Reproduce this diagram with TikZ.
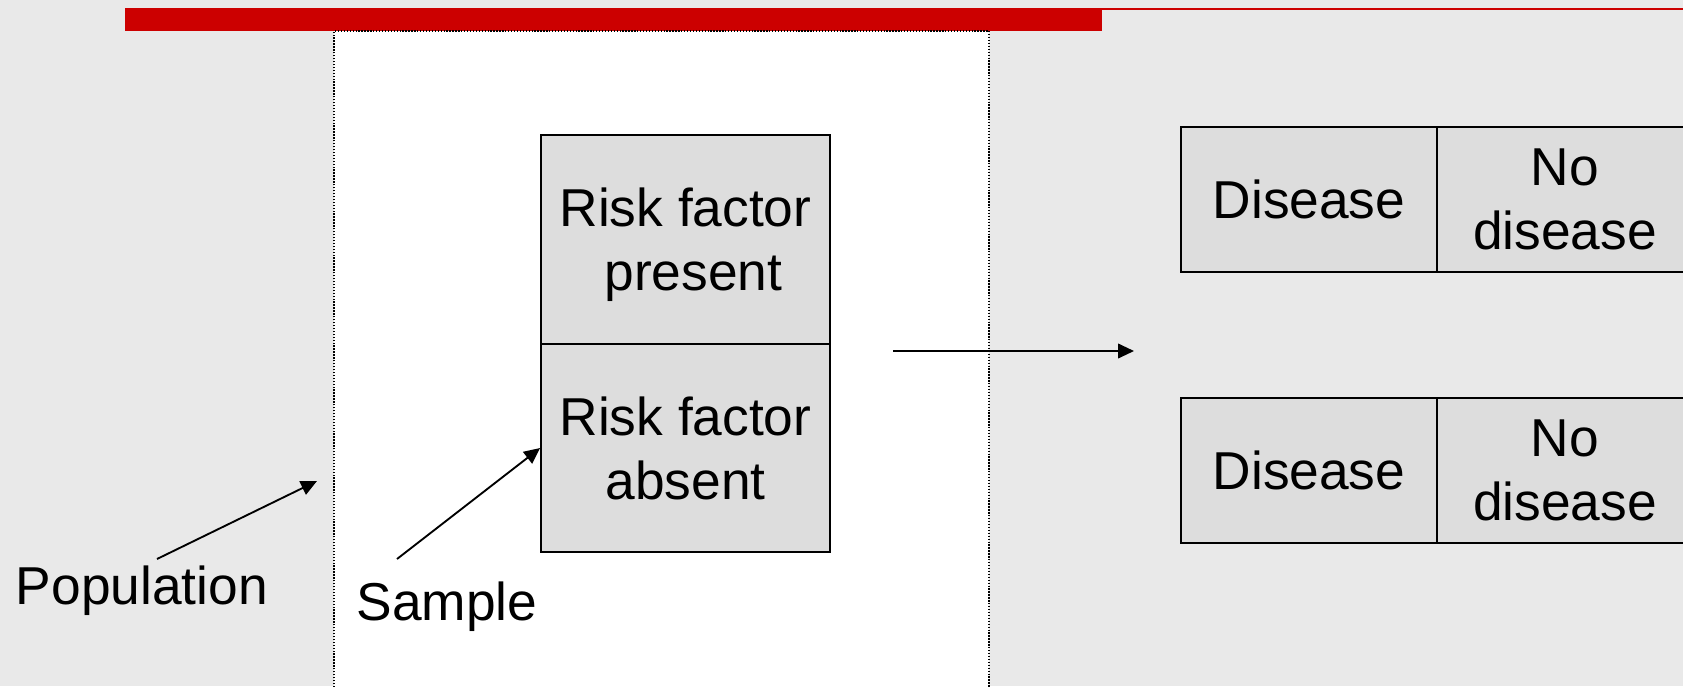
\documentclass[tikz,border=0pt]{standalone}
\usepackage{fontspec}
\setmainfont{Liberation Sans}
\usetikzlibrary{arrows.meta}
\definecolor{bggray}{HTML}{E9E9E9}
\definecolor{boxgray}{HTML}{DDDDDD}
\definecolor{barred}{HTML}{CC0000}
\begin{document}
\begin{tikzpicture}[x=0.75pt,y=-0.75pt,
  cell/.style={draw=black,line width=1.3pt,fill=boxgray,inner sep=0pt,align=center,
    font=\fontsize{40}{48}\selectfont},
  lbl/.style={inner sep=0pt,font=\fontsize{40}{48}\selectfont},
  arr/.style={line width=1.4pt,-{Triangle[length=12pt,width=11pt]}},
  dotline/.style={line width=1pt,dash pattern=on 1pt off 1.2pt}]
\useasboundingbox (0,0) rectangle (1683,686);
\fill[bggray] (0,0) rectangle (1683,686);
\begin{scope}
\clip (0,0) rectangle (1683,686);
% top bar
\draw[barred,line width=1.8pt] (125,9) -- (1683,9);
\fill[barred] (125,8) rectangle (1102,31);
% sample region
\fill[white] (334,31) rectangle (989,690);
\draw[dotline] (334,690) -- (334,31) -- (989,31) -- (989,690);
% risk factor boxes
\node[cell,minimum width={289*0.75pt},minimum height={209*0.75pt}] (riskP) at (685.5,239.5) {Risk factor\\\hspace*{0.3em}\smash{present}};
\node[cell,minimum width={289*0.75pt},minimum height={208*0.75pt}] (riskA) at (685.5,448) {Risk factor\\absent};
% outcome boxes
\node[cell,minimum width={256*0.75pt},minimum height={145*0.75pt}] (dis1) at (1309,199.5) {Disease};
\node[cell,minimum width={256*0.75pt},minimum height={145*0.75pt}] (nodis1) at (1565,199.5) {No\\disease};
\node[cell,minimum width={256*0.75pt},minimum height={145*0.75pt}] (dis2) at (1309,470.5) {Disease};
\node[cell,minimum width={256*0.75pt},minimum height={145*0.75pt}] (nodis2) at (1565,470.5) {No\\disease};
\end{scope}
% labels
\node[lbl,anchor=base] (pop) at (142,604) {Population};
\node[lbl,anchor=base] (samp) at (447,620) {Sample};
% arrows
\coordinate (p1) at (157,559);
\coordinate (p2) at (317,481);
\draw[arr] (p1) -- (p2);
\coordinate (s1) at (397,559);
\draw[arr] (s1) -- (riskA.west);
\coordinate (m1) at (893,351);
\coordinate (m2) at (1134,351);
\draw[arr] (m1) -- (m2);
\end{tikzpicture}
\end{document}
